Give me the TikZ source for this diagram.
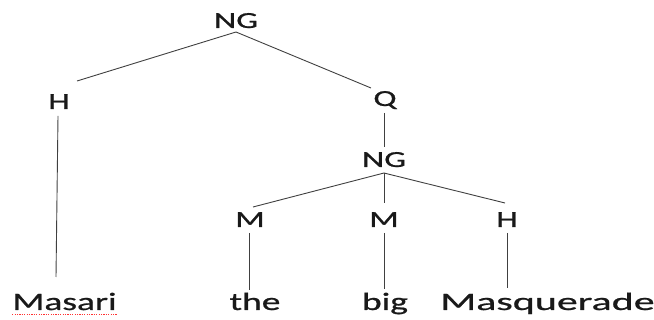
\documentclass[tikz,border=0pt]{standalone}
\usepackage{fontspec}
\setmainfont{Carlito}[FakeStretch=1.5,FakeBold=0.8]
\newfontfamily\widefont{Carlito}[FakeStretch=1.68,FakeBold=0.8]
\begin{document}
\begin{tikzpicture}[x=1pt,y=-1pt,
  lab/.style={anchor=base,inner sep=0pt,font=\fontsize{23}{23}\selectfont,text=black!90},
  word/.style={anchor=base,inner sep=0pt,font=\fontsize{25}{25}\selectfont,text=black!90},
  edge/.style={draw=black!75,line width=0.9pt}]
\useasboundingbox (0,0) rectangle (654,320);
% labels
\node[lab] (ng1) at (236,28) {NG};
\node[lab] (h1) at (59,109) {H};
\node[lab] (q) at (385,106) {Q};
\node[lab] (ng2) at (384,167) {NG};
\node[lab] (m1) at (250,227) {M};
\node[lab] (m2) at (384,227) {M};
\node[lab] (h2) at (507,227) {H};
% words
\node[word] (masari) at (64.5,310) {Masari};
\node[word] (the) at (255,310) {the};
\node[word] (big) at (385,310) {big};
\node[word,font=\widefont\fontsize{25}{25}\selectfont] (masq) at (547.5,310) {Masquerade};
% connector ends
\coordinate (ng1b) at (236,32);
\coordinate (h1t) at (77,81);
\coordinate (qt) at (371,88);
\coordinate (h1b) at (58,116);
\coordinate (masarit) at (56,277);
\coordinate (qb) at (384,113);
\coordinate (ng2t) at (384,147);
\coordinate (ng2b) at (384,173);
\coordinate (m1t) at (253,207);
\coordinate (m2t) at (384,203);
\coordinate (h2t) at (505,203);
\coordinate (m1b) at (249,233);
\coordinate (thet) at (249,290);
\coordinate (m2b) at (384,233);
\coordinate (bigt) at (384,289);
\coordinate (h2b) at (507,233);
\coordinate (masqt) at (507,288);
% connectors
\draw[edge] (ng1b) -- (h1t);
\draw[edge] (ng1b) -- (qt);
\draw[edge] (h1b) -- (masarit);
\draw[edge] (qb) -- (ng2t);
\draw[edge] (ng2b) -- (m1t);
\draw[edge] (ng2b) -- (m2t);
\draw[edge] (ng2b) -- (h2t);
\draw[edge] (m1b) -- (thet);
\draw[edge] (m2b) -- (bigt);
\draw[edge] (h2b) -- (masqt);
% spell-check underline
\draw[red!80,line width=1pt,dash pattern=on 1.2pt off 1.2pt] ([yshift=-5pt]masari.base west) -- ([yshift=-5pt]masari.base east);
\end{tikzpicture}
\end{document}
